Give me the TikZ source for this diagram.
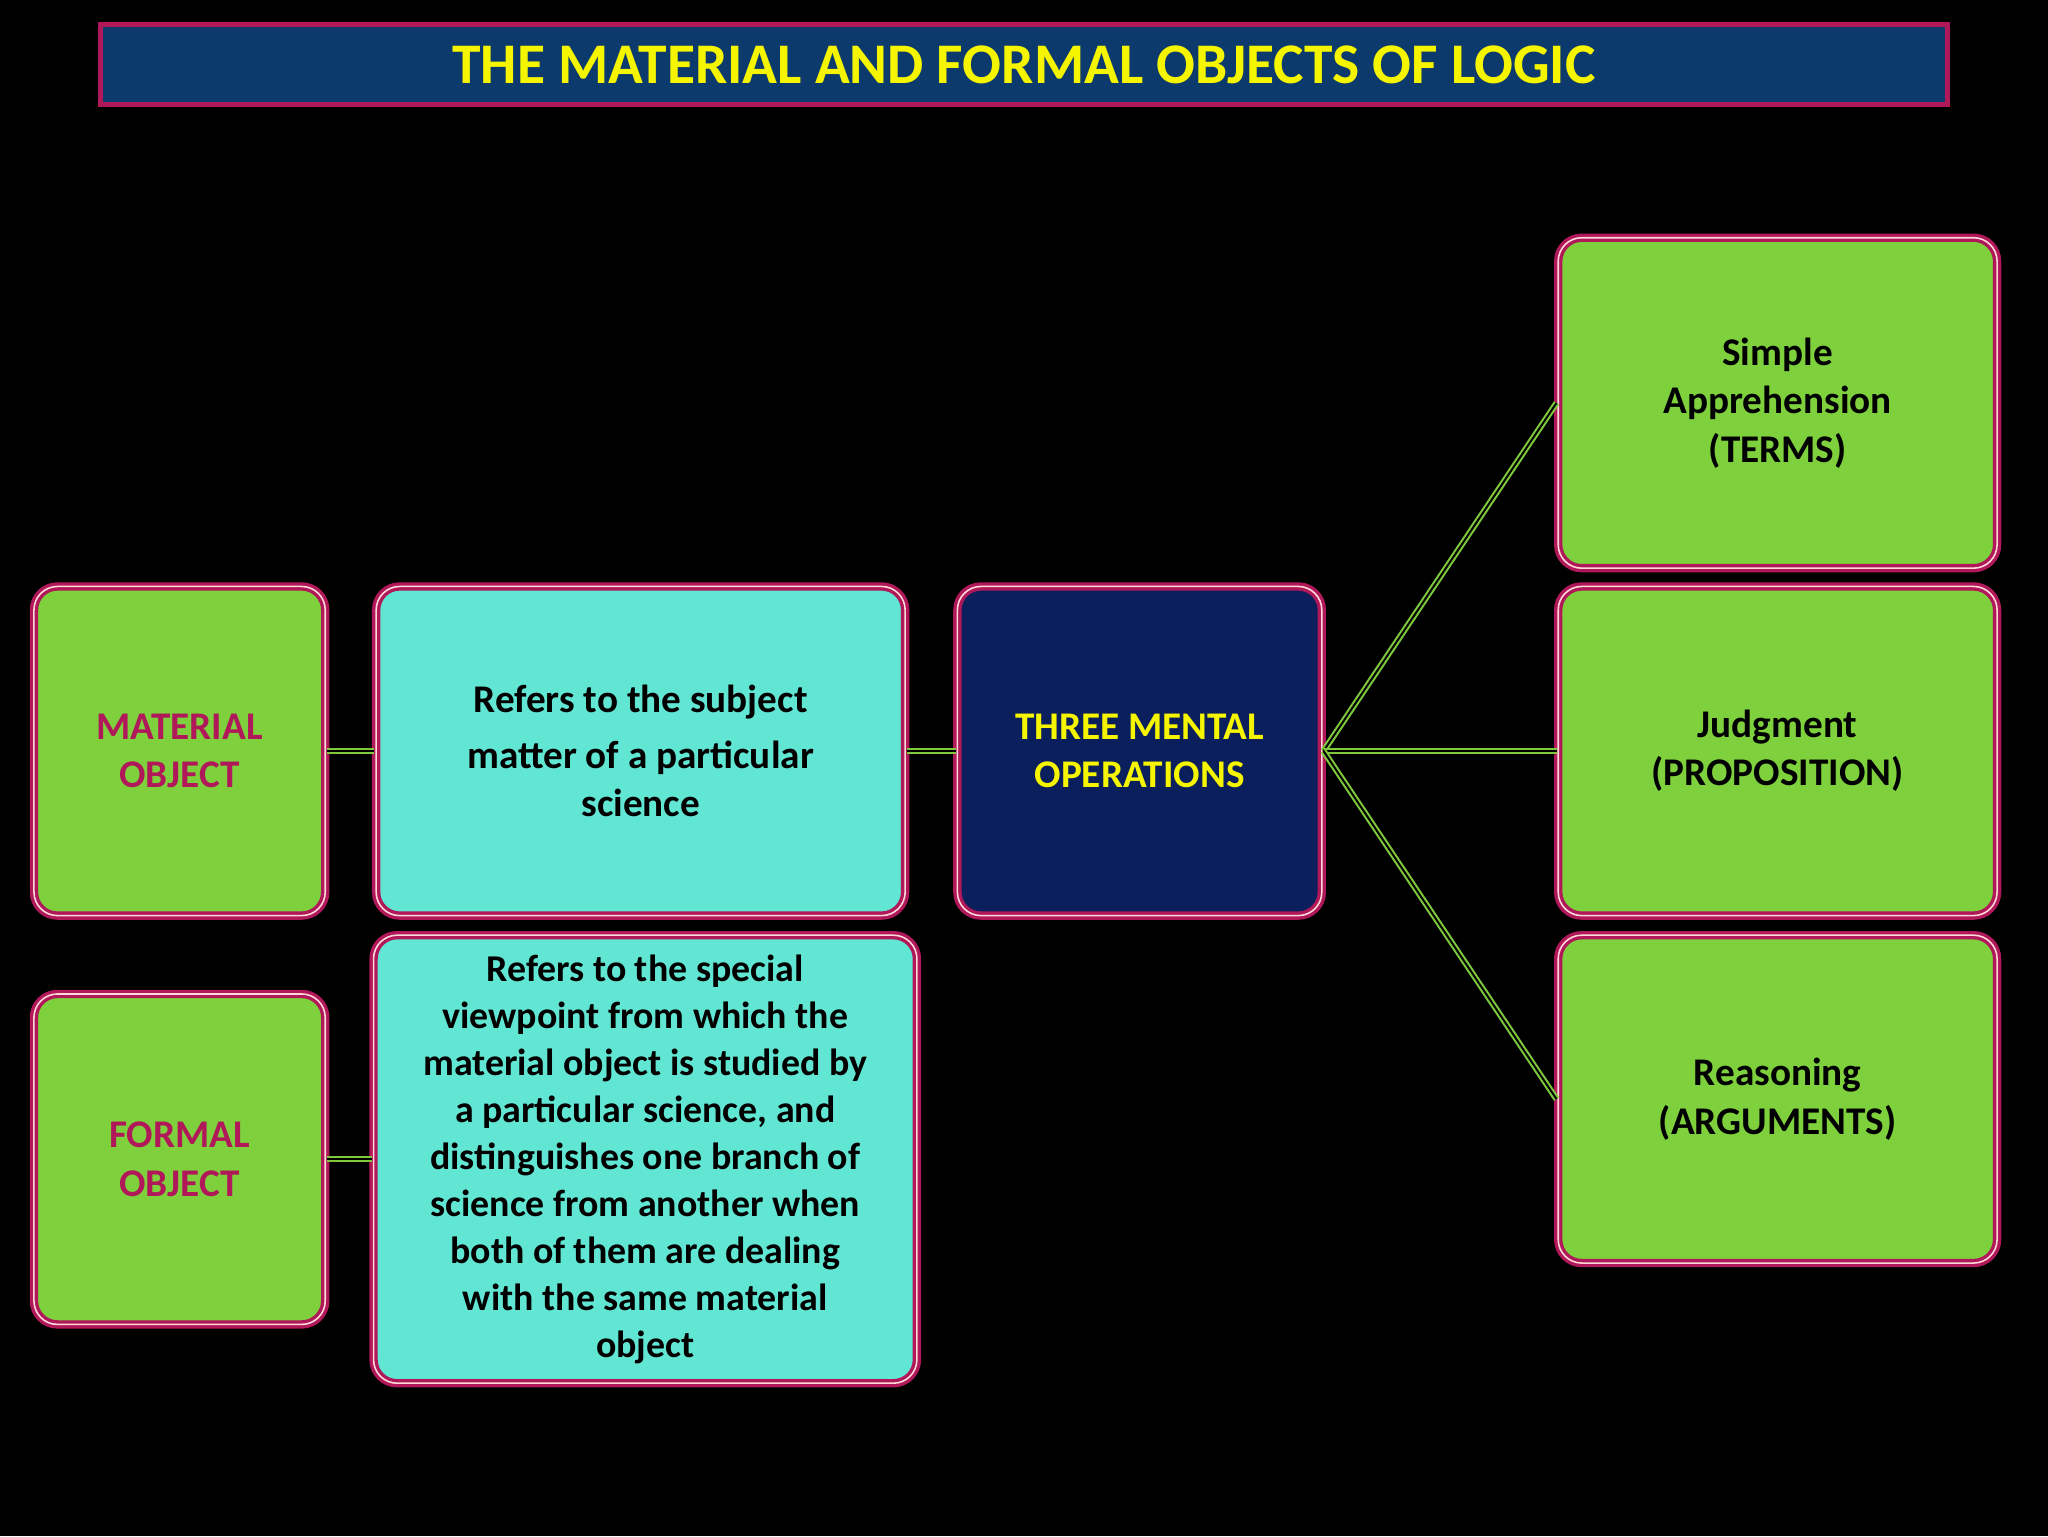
\documentclass[tikz,border=0pt]{standalone}
\usepackage{fontspec}
\setmainfont{Carlito}
\definecolor{mag}{HTML}{B0185A}
\definecolor{grn}{HTML}{7ED03C}
\definecolor{cyn}{HTML}{62E6D4}
\definecolor{nvy}{HTML}{0A1F5C}
\definecolor{ttl}{HTML}{0C3A6C}
\definecolor{ylw}{HTML}{F5F500}
\definecolor{lnk}{HTML}{7EC83C}
\begin{document}
\begin{tikzpicture}[x=1pt,y=-1pt,
 box/.style={draw=mag,double=pink!60,double distance=1.2pt,line width=2.6pt,rounded corners=18pt,align=center,font=\bfseries\fontsize{30}{37}\selectfont,inner sep=0pt},
 link/.style={draw=lnk,double=black,double distance=1.5pt,line width=1.6pt}]
\fill[black] (0,0) rectangle (1568,1176);
\node[draw=mag,line width=4pt,fill=ttl,minimum width=1414,minimum height=61,inner sep=0,text=ylw,font=\bfseries\fontsize{44}{50}\selectfont] (t) at (784,49.5) {THE MATERIAL AND FORMAL OBJECTS OF LOGIC};
\node[box,fill=grn,text=mag,minimum width=223,minimum height=252] (mo) at (137.5,575) {MATERIAL\\OBJECT};
\node[box,fill=cyn,minimum width=405,minimum height=252] (rs) at (490.5,575) {Refers to the subject\\[6pt]matter of a particular\\science};
\node[box,fill=nvy,text=ylw,minimum width=279,minimum height=252] (tm) at (872.5,575) {THREE MENTAL\\OPERATIONS};
\node[box,fill=grn,minimum width=336,minimum height=253] (sa) at (1361,308.5) {Simple\\Apprehension\\(TERMS)};
\node[box,fill=grn,minimum width=336,minimum height=252] (ju) at (1361,575) {Judgment\\(PROPOSITION)};
\node[box,fill=grn,minimum width=336,minimum height=251] (re) at (1361,841.5) {Reasoning\\(ARGUMENTS)};
\node[box,fill=grn,text=mag,minimum width=223,minimum height=253] (fo) at (137.5,887.5) {FORMAL\\OBJECT};
\node[box,fill=cyn,minimum width=416,minimum height=343,font=\bfseries\fontsize{29}{36}\selectfont] (rp) at (494,887.5) {Refers to the special\\viewpoint from which the\\material object is studied by\\a particular science, and\\distinguishes one branch of\\science from another when\\both of them are dealing\\with the same material\\object};
\draw[link] (mo.east) -- (rs.west);
\draw[link] (rs.east) -- (tm.west);
\draw[link] (tm.east) -- (sa.west);
\draw[link] (tm.east) -- (ju.west);
\draw[link] (tm.east) -- (re.west);
\draw[link] (fo.east) -- (rp.west);
\end{tikzpicture}
\end{document}
